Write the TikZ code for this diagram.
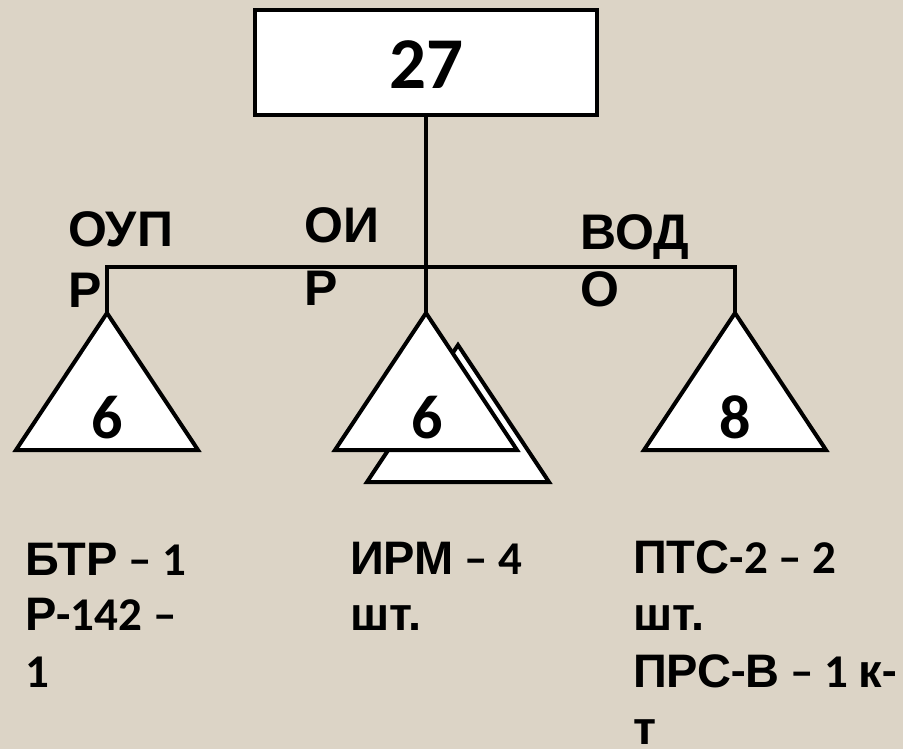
\documentclass[tikz,border=0pt]{standalone}
\usepackage{fontspec}
\setmainfont{Carlito}
\newfontfamily\cy{Liberation Sans}
\definecolor{bgc}{HTML}{DCD4C6}
\begin{document}
\begin{tikzpicture}[x=1pt,y=-1pt,
  shapeline/.style={draw=black,line width=4pt,fill=white,line join=miter},
  conn/.style={draw=black,line width=3.5pt},
  lbl/.style={anchor=base west,inner sep=0pt,font=\fontsize{50}{54}\selectfont\cy\bfseries},
  txt/.style={anchor=base west,inner sep=0pt,font=\fontsize{47}{54}\selectfont\bfseries},
  num/.style={anchor=base,inner sep=0pt,font=\fontsize{62}{70}\selectfont\bfseries}]
\fill[bgc] (0,0) rectangle (903,749);
\useasboundingbox (0,0) rectangle (903,749);
% top box
\node[shapeline,minimum width=342pt,minimum height=105pt,inner sep=0pt] (top) at (426,62.5) {};
\node[anchor=base,inner sep=0pt,font=\fontsize{73}{80}\selectfont\bfseries] (n27) at (426,89) {27};
% bus
\coordinate (bus) at (426,267);
\coordinate (busL) at (107,267);
\coordinate (busR) at (735,267);
\coordinate (t1) at (107,313);
\coordinate (t2) at (426,313);
\coordinate (t3) at (735,313);
\draw[conn] (top.south) -- (bus);
\draw[conn,line cap=rect] (busL) -- (busR);
\draw[conn] (busL) -- (t1);
\draw[conn] (bus) -- (t2);
\draw[conn] (busR) -- (t3);
% triangles
\draw[shapeline] (t1) -- (198,450) -- (16,450) -- cycle;
\draw[shapeline] (458,345) -- (549,482) -- (367,482) -- cycle;
\draw[shapeline] (t2) -- (517,450) -- (335,450) -- cycle;
\draw[shapeline] (t3) -- (826,450) -- (644,450) -- cycle;
\node[num] (n1) at (107,438) {6};
\node[num] (n2) at (427,438) {6};
\node[num] (n3) at (735,438) {8};
% labels
\node[lbl] (l1a) at (68,246) {ОУП};
\node[lbl] (l1b) at (68,307) {Р};
\node[lbl] (l2a) at (304,243) {ОИ};
\node[lbl] (l2b) at (304,305) {Р};
\node[lbl] (l3a) at (580,249) {ВОД};
\node[lbl] (l3b) at (580,306) {О};
% bottom texts
\node[txt] (a1) at (25,575) {{\cy БТР} – 1};
\node[txt] (a2) at (25,630) {{\cy Р}-142 –};
\node[txt] (a3) at (25,687) {1};
\node[txt] (b1) at (350,574) {{\cy ИРМ} – 4};
\node[txt] (b2) at (350,630) {{\cy шт.}};
\node[txt] (c1) at (633,573) {{\cy ПТС}-2 – 2};
\node[txt] (c2) at (633,630) {{\cy шт.}};
\node[txt] (c3) at (633,687) {{\cy ПРС}-{\cy В} – 1 {\cy к}-};
\node[txt] (c4) at (633,744) {{\cy т}};
\end{tikzpicture}
\end{document}
